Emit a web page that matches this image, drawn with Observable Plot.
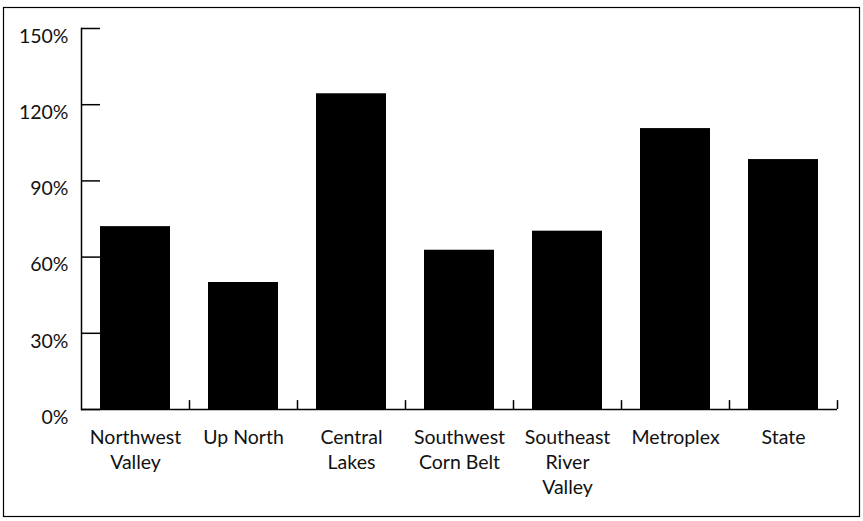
<!DOCTYPE html>
<html>
<head>
<meta charset="utf-8">
<script src="https://cdn.jsdelivr.net/npm/d3@7"></script>
<script src="https://cdn.jsdelivr.net/npm/@observablehq/plot@0.6"></script>
<style>
  body { margin: 0; background: #fff; }
  #chart svg { display: block; }
</style>
</head>
<body>
<div id="chart"></div>
<script>
const categories = ["Northwest Valley", "Up North", "Central Lakes", "Southwest Corn Belt", "Southeast River Valley", "Metroplex", "State"];
const tickLabels = ["Northwest\nValley", "Up North", "Central\nLakes", "Southwest\nCorn Belt", "Southeast\nRiver\nValley", "Metroplex", "State"];
const values = [72, 50, 124.3, 62.7, 70.2, 110.6, 98.4];
const yTicks = [0, 30, 60, 90, 120, 150];

const data = categories.map((c, i) => ({category: c, value: values[i]}));
const labelOf = new Map(categories.map((c, i) => [c, tickLabels[i]]));

const W = 863, H = 521;
const mL = 81, mR = 26, mT = 28, mB = 112;
const plotW = W - mL - mR;
const step = plotW / 7;

const plot = Plot.plot({
  width: W,
  height: H,
  marginLeft: mL,
  marginRight: mR,
  marginTop: mT,
  marginBottom: mB,
  style: {fontFamily: "Lato, sans-serif", fontSize: "19.5px", color: "#111", background: "#fff"},
  x: {domain: categories, paddingInner: 0.35, paddingOuter: 0.175},
  y: {domain: [0, 150]},
  marks: [
    Plot.barY(data, {x: "category", y: "value", fill: "#000"}),
    Plot.axisY(yTicks, {tickSize: 0, tickPadding: 13, dy: 8, tickFormat: d => d + "%", label: null, fontSize: 19.5}),
    Plot.ruleY(yTicks, {y: d => d, stroke: "#000", strokeWidth: 1.5, insetRight: plotW - 19}),
    Plot.frame({anchor: "left", stroke: "#000", strokeWidth: 1.5}),
    Plot.ruleY([0], {stroke: "#000", strokeWidth: 1.5}),
    Plot.ruleX(categories, {x: d => d, dx: step / 2, y1: 0, y2: 3.5, stroke: "#000", strokeWidth: 1.5}),
    Plot.axisX({tickSize: 0, tickPadding: 16, tickFormat: d => labelOf.get(d), lineHeight: 1.3, label: null, fontSize: 19.5})
  ]
});

d3.select(plot).append("rect")
  .attr("x", 3.5).attr("y", 7.5)
  .attr("width", 856).attr("height", 509)
  .attr("fill", "none").attr("stroke", "#000").attr("stroke-width", 1.2);

document.getElementById("chart").append(plot);
</script>
</body>
</html>
